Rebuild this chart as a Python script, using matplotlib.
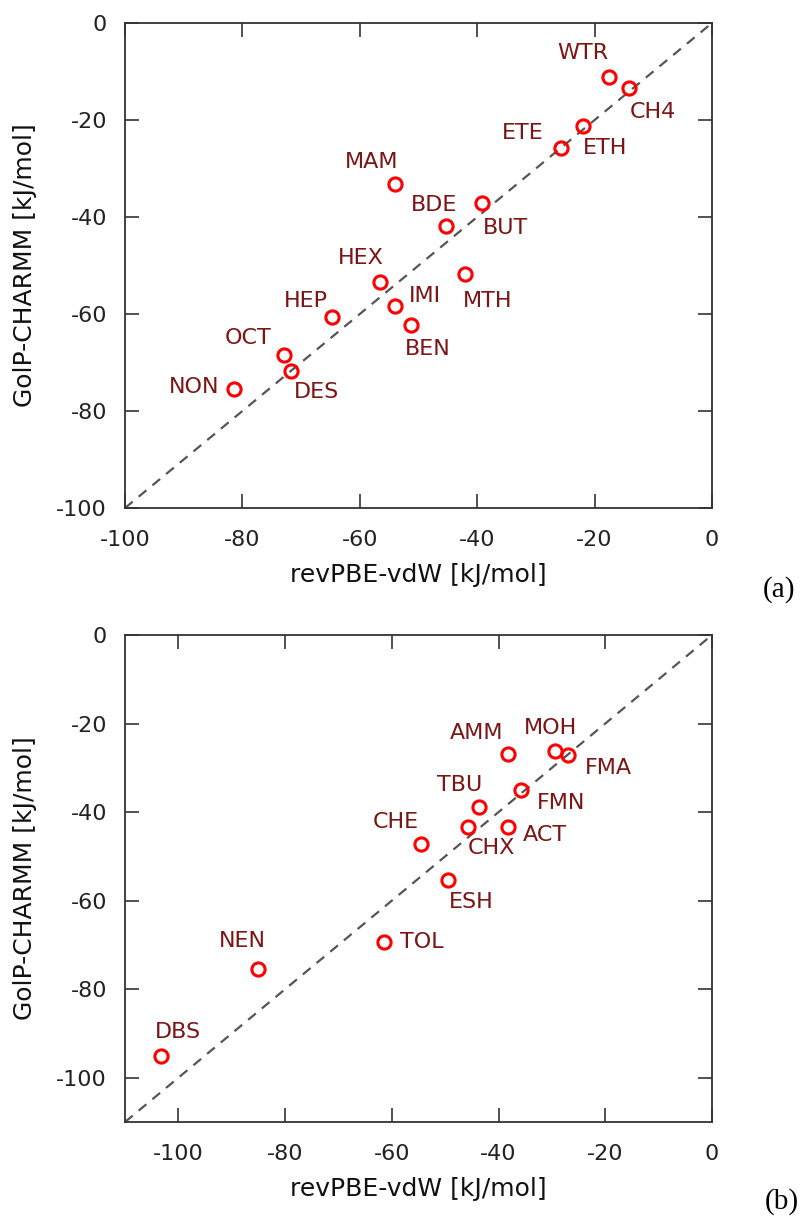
import matplotlib
matplotlib.use("Agg")
import matplotlib.pyplot as plt

# ---------------- data ----------------
# Panel (a)
a_names = ["WTR", "CH4", "ETE", "ETH", "BDE", "BUT", "MTH", "IMI", "BEN",
           "MAM", "HEX", "HEP", "OCT", "DES", "NON"]
a_x = [-17.5, -14.2, -25.8, -22.0, -45.4, -39.2, -42.0, -54.0, -51.3,
       -54.0, -56.5, -64.7, -72.9, -71.7, -81.4]
a_y = [-11.1, -13.3, -25.8, -21.2, -41.8, -37.1, -51.7, -58.4, -62.3,
       -33.1, -53.3, -60.6, -68.5, -71.8, -75.4]

# Panel (b)
b_names = ["DBS", "NEN", "TOL", "CHE", "ESH", "CHX", "TBU", "ACT", "AMM",
           "FMN", "MOH", "FMA"]
b_x = [-103.2, -85.1, -61.4, -54.6, -49.4, -45.8, -43.7, -38.2, -38.2,
       -35.8, -29.4, -26.9]
b_y = [-95.1, -75.4, -69.4, -47.1, -55.3, -43.3, -38.9, -43.3, -26.9,
       -35.1, -26.3, -27.1]

a_ticks = [-100, -80, -60, -40, -20, 0]
b_ticks = [-100, -80, -60, -40, -20, 0]
a_lim = (-100, 0)
b_lim = (-110, 0)

xlabel = "revPBE-vdW [kJ/mol]"
ylabel = "GolP-CHARMM [kJ/mol]"

# label offsets (pixels: right, down) - style only
a_off = {"WTR": (-26, -24), "CH4": (24, 24), "ETE": (-38, -15), "ETH": (22, 22),
         "BDE": (-11, -21), "BUT": (24, 25), "MTH": (22, 27), "IMI": (30, -10),
         "BEN": (17, 24), "MAM": (-23, -22), "HEX": (-20, -24), "HEP": (-26, -16),
         "OCT": (-36, -17), "DES": (25, 21), "NON": (-40, -2)}
b_off = {"DBS": (17, -24), "NEN": (-16, -28), "TOL": (37, 0), "CHE": (-25, -22),
         "ESH": (23, 22), "CHX": (24, 21), "TBU": (-19, -22), "ACT": (37, 8),
         "AMM": (-32, -21), "FMN": (40, 13), "MOH": (-5, -23), "FMA": (40, 13)}

# ---------------- style ----------------
plt.rcParams["font.family"] = ["DejaVu Sans"]
DPI = 100
fig = plt.figure(figsize=(8.03, 12.18), dpi=DPI)

label_color = "#7a1616"
axis_color = "#333333"
px2pt = 72.0 / DPI


def panel(rect, names, xs, ys, lim, ticks, offs, tag, tag_xy, xpad):
    ax = fig.add_axes(rect)
    ax.set_xlim(*lim)
    ax.set_ylim(*lim)
    ax.axline((0, 0), slope=1, color="#555555", lw=1.6, ls=(0, (4.5, 3.5)), zorder=1)
    ax.plot(xs, ys, ls="none", marker="o", ms=9.5, mfc="none", mec="#ff0000",
            mew=2.2, zorder=3, clip_on=False)
    for n, x, y in zip(names, xs, ys):
        dx, dy = offs[n]
        ax.annotate(n, (x, y), xytext=(dx * px2pt, -dy * px2pt),
                    textcoords="offset points", ha="center", va="center",
                    fontsize=16, color=label_color, zorder=4)
    ax.set_xticks(ticks)
    ax.set_yticks(ticks)
    ax.set_xticklabels([str(t) for t in ticks])
    ax.set_yticklabels([str(t) for t in ticks])
    ax.tick_params(direction="in", length=10, width=1.2, color=axis_color,
                   labelsize=16, labelcolor="#222222", top=True, right=True)
    ax.tick_params(axis="x", pad=xpad)
    ax.tick_params(axis="y", pad=13)
    for s in ax.spines.values():
        s.set_color(axis_color)
        s.set_linewidth(1.3)
    ax.set_xlabel(xlabel, fontsize=18, color="#111111")
    ax.set_ylabel(ylabel, fontsize=18, color="#111111")
    ax.xaxis.set_label_coords(0.5, -0.113)
    ax.xaxis.label.set_va("top")
    ax.yaxis.set_label_coords(-0.15, 0.5)
    fig.text(tag_xy[0], tag_xy[1], tag, family="Liberation Serif", fontsize=21,
             ha="center", va="center", color="#000000")
    return ax


W, H = 803.0, 1218.0
rect_a = [125 / W, 1 - 508 / H, 587 / W, 485 / H]
rect_b = [125 / W, 1 - 1122 / H, 587 / W, 487 / H]

panel(rect_a, a_names, a_x, a_y, a_lim, a_ticks, a_off, "(a)",
      (779 / W, 1 - 590 / H), 16)
panel(rect_b, b_names, b_x, b_y, b_lim, b_ticks, b_off, "(b)",
      (782 / W, 1 - 1202 / H), 16)

fig.savefig("out.png", dpi=DPI, facecolor="white")
